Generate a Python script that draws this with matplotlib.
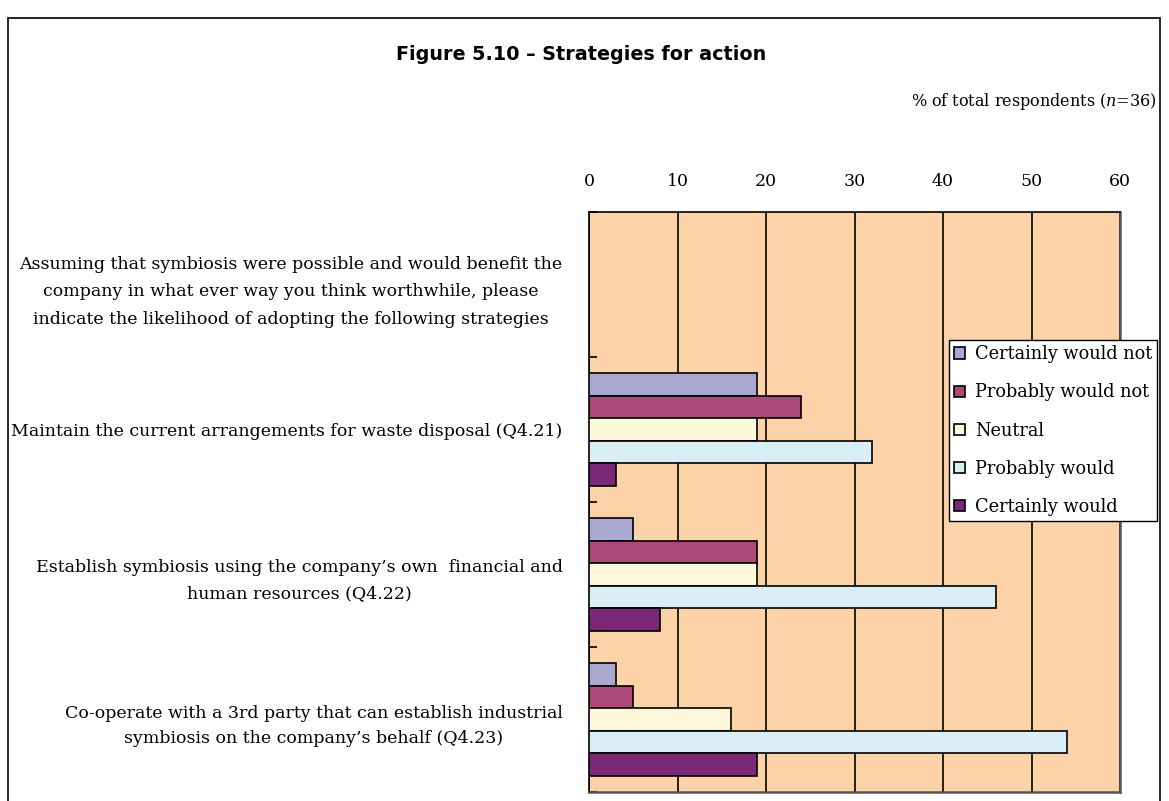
import numpy as np
import matplotlib
matplotlib.use("Agg")
import matplotlib.pyplot as plt
from matplotlib.patches import Rectangle

# === DATA ===
categories = [
    "Assuming that symbiosis were possible and would benefit the\n"
    "company in what ever way you think worthwhile, please\n"
    "indicate the likelihood of adopting the following strategies",
    "Maintain the current arrangements for waste disposal (Q4.21)",
    "Establish symbiosis using the company\u2019s own  financial and\n"
    "human resources (Q4.22)",
    "Co-operate with a 3rd party that can establish industrial\n"
    "symbiosis on the company\u2019s behalf (Q4.23)",
]
series_names = ["Certainly would not", "Probably would not", "Neutral",
                "Probably would", "Certainly would"]
certainly_not = [0, 19, 5, 3]
probably_not = [0, 24, 19, 5]
neutral = [0, 19, 19, 16]
probably = [0, 32, 46, 54]
certainly = [0, 3, 8, 19]
x_ticks = [0, 10, 20, 30, 40, 50, 60]

colors = ["#ABA9D2", "#AB4A78", "#FEF8DA", "#DAEFF5", "#7B2876"]
BG = "#FCD3A8"
SERIF = "DejaVu Serif"
plt.rcParams["mathtext.fontset"] = "dejavuserif"

fig = plt.figure(figsize=(11.69, 8.01), dpi=100)
ax = fig.add_axes([589 / 1169, 1 - 792 / 801, (1120 - 589) / 1169, (792 - 212) / 801])
ax.set_facecolor(BG)

all_series = [certainly_not, probably_not, neutral, probably, certainly]
y = np.arange(len(categories))
bh = 0.156
for i, (vals, name, c) in enumerate(zip(all_series, series_names, colors)):
    offs = (i - 2) * bh
    ax.barh(y + offs, vals, height=bh, color=c, edgecolor="black",
            linewidth=1.2, label=name, zorder=3)

ax.set_xlim(0, 60)
ax.set_ylim(len(categories) - 0.5, -0.5)
ax.set_xticks(x_ticks)
ax.xaxis.tick_top()
ax.tick_params(axis="x", length=0, pad=16, labelsize=12.5)
for lbl in ax.get_xticklabels():
    lbl.set_fontfamily(SERIF)
ax.grid(axis="x", color="black", linewidth=1.2, zorder=1)
ax.set_axisbelow(True)

ax.set_yticks(y)
ax.set_yticklabels(categories, fontsize=12.5, family=SERIF,
                   multialignment="center", linespacing=1.66)
ax.get_yticklabels()[0].set_linespacing(1.82)
ax.tick_params(axis="y", which="major", length=0, pad=19)
ax.set_yticks(np.arange(-0.5, len(categories) - 0.4, 1), minor=True)
ax.tick_params(axis="y", which="minor", length=6, direction="in", width=1.2)

for s in ["left", "top"]:
    ax.spines[s].set_color("black")
    ax.spines[s].set_linewidth(1.2)
for s in ["right", "bottom"]:
    ax.spines[s].set_color("#555555")
    ax.spines[s].set_linewidth(1.8)

leg = ax.legend(loc="upper left", bbox_to_anchor=((949 - 589) / 531, 1 - (340 - 212) / 580),
                prop={"family": SERIF, "size": 12.8}, frameon=True, fancybox=False,
                framealpha=1, handlelength=0.6, handleheight=0.6, handletextpad=0.55,
                labelspacing=1.13, borderpad=0.3, borderaxespad=0)
leg.get_frame().set_edgecolor("black")
leg.get_frame().set_facecolor("white")
leg.get_frame().set_linewidth(1.0)
leg.set_zorder(5)

fig.text(581 / 1169, 1 - 54 / 801, "Figure 5.10 \u2013 Strategies for action",
         ha="center", va="center", fontsize=13.8, fontweight="bold")
fig.text(1157 / 1169, 1 - 101 / 801, r"% of total respondents ($n$=36)",
         ha="right", va="center", fontsize=11.5, family=SERIF)

fig.patches.append(Rectangle((8 / 1169, -0.01), (1160 - 8) / 1169, 1 - 18 / 801 + 0.01,
                             transform=fig.transFigure, fill=False,
                             edgecolor="black", linewidth=1.2))

fig.savefig("out.png", dpi=100)
